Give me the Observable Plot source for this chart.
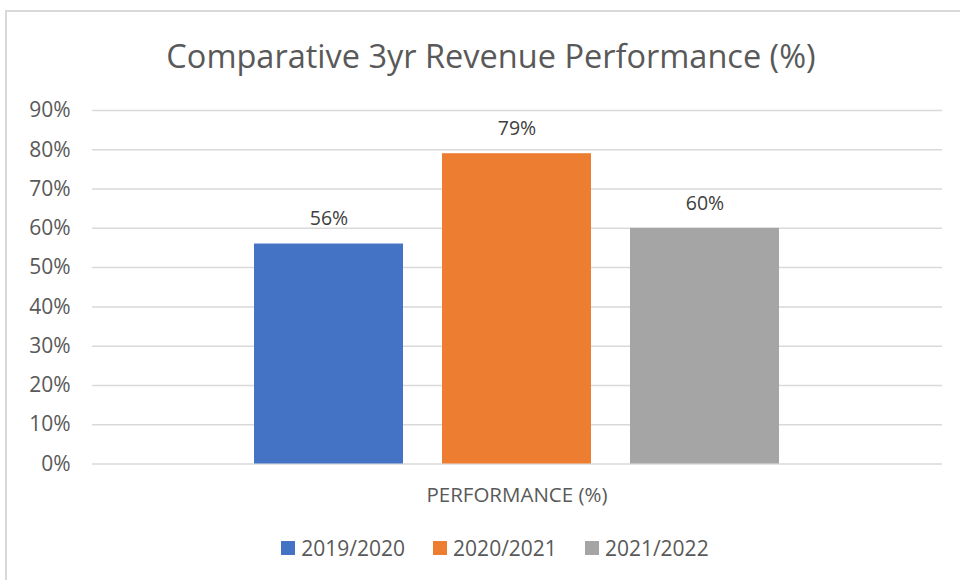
<!DOCTYPE html>
<html>
<head>
<meta charset="utf-8">
<script src="https://cdn.jsdelivr.net/npm/d3@7"></script>
<script src="https://cdn.jsdelivr.net/npm/@observablehq/plot@0.6"></script>
<style>
  html, body { margin: 0; padding: 0; background: #fff; }
  body { width: 960px; height: 580px; overflow: hidden; position: relative; font-family: "Open Sans", sans-serif; }
  #frame { position: absolute; left: 5px; top: 10px; width: 1000px; height: 1000px; border: 2px solid #d9d9d9; box-sizing: border-box; }
  #title { position: absolute; left: 0; width: 982px; top: 33px; text-align: center; font-size: 32.5px; color: #595959; line-height: 46px; white-space: nowrap; }
  #chart { position: absolute; left: 0; top: 0; }
  #xlabel { position: absolute; left: 0; width: 1034px; top: 480px; text-align: center; font-size: 20.5px; color: #595959; line-height: 28px; white-space: nowrap; }
  #legend { position: absolute; left: 0; width: 990px; top: 533px; display: flex; justify-content: center; align-items: center; font-size: 21px; color: #595959; line-height: 30px; }
  .item { display: flex; align-items: center; margin: 0 14px; }
  .sw { width: 14px; height: 14px; margin-right: 6px; }
</style>
</head>
<body>
<div id="frame"></div>
<div id="title"></div>
<div id="chart"></div>
<div id="xlabel"></div>
<div id="legend"></div>
<script>
const titleText = "Comparative 3yr Revenue Performance (%)";
const category = "PERFORMANCE (%)";
const series = ["2019/2020", "2020/2021", "2021/2022"];
const values = [56, 79, 60];
const colors = ["#4472C4", "#ED7D31", "#A5A5A5"];
const yTicks = [0, 10, 20, 30, 40, 50, 60, 70, 80, 90];

const data = series.map((s, i) => ({series: s, value: values[i]}));

document.getElementById("title").textContent = titleText;
document.getElementById("xlabel").textContent = category;

const chart = Plot.plot({
  width: 960,
  height: 480,
  marginTop: 110,
  marginBottom: 16.5,
  marginLeft: 92,
  marginRight: 18,
  style: {fontFamily: "Open Sans, sans-serif", background: "transparent"},
  x: {type: "band", domain: series, range: [254, 780], paddingInner: 0.2074, paddingOuter: 0, axis: null},
  y: {domain: [0, 90], ticks: yTicks},
  color: {domain: series, range: colors},
  marks: [
    Plot.ruleY(yTicks, {stroke: "#d9d9d9", strokeWidth: 1.5}),
    Plot.axisY({ticks: yTicks, tickFormat: d => d + "%", tickSize: 0, tickPadding: 22, fontSize: 21, fill: "#595959", label: null}),
    Plot.barY(data, {x: "series", y: "value", fill: "series"}),
    Plot.text(data, {x: "series", y: "value", text: d => d.value + "%", dy: -25, fontSize: 19.5, fill: "#404040"})
  ]
});
document.getElementById("chart").appendChild(chart);

const legend = document.getElementById("legend");
series.forEach((s, i) => {
  const item = document.createElement("div");
  item.className = "item";
  const sw = document.createElement("div");
  sw.className = "sw";
  sw.style.background = colors[i];
  const lab = document.createElement("span");
  lab.textContent = s;
  item.appendChild(sw);
  item.appendChild(lab);
  legend.appendChild(item);
});
</script>
</body>
</html>
